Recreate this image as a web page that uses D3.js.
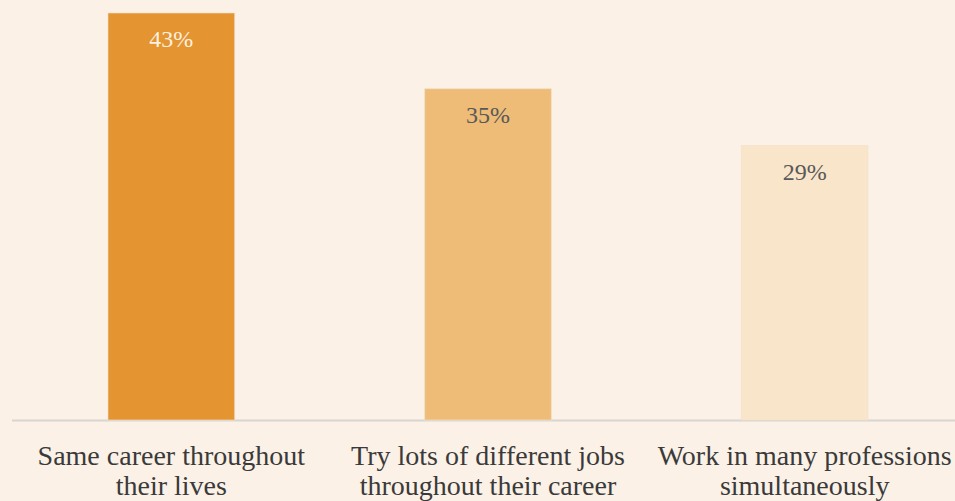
<!DOCTYPE html>
<html><head><meta charset="utf-8">
<script src="https://cdn.jsdelivr.net/npm/d3@7"></script>
<style>html,body{margin:0;padding:0;background:#FBF1E6;}svg{display:block;}</style>
</head><body>
<div id="chart"></div>
<script>
const categories = ["Same career throughout their lives", "Try lots of different jobs throughout their career", "Work in many professions simultaneously"];
const categoryLines = [["Same career throughout", "their lives"], ["Try lots of different jobs", "throughout their career"], ["Work in many professions", "simultaneously"]];
const values = [43, 35, 29];
const valueLabels = ["43%", "35%", "29%"];
const barColors = ["#E49431", "#EEBC77", "#F9E5CA"];
const labelColors = ["#FCF0DF", "#595959", "#595959"];

const W = 955, H = 501;
const svg = d3.select("#chart").append("svg").attr("width", W).attr("height", H);
svg.append("rect").attr("width", W).attr("height", H).attr("fill", "#FBF1E6");

const x = d3.scaleBand().domain(categories).range([13, 963]).paddingInner(0.6).paddingOuter(0.3);
const y = d3.scaleLinear().domain([0, 43]).range([420, 13]);

svg.append("line").attr("x1", 12).attr("x2", W).attr("y1", y(0) + 0.5).attr("y2", y(0) + 0.5)
  .attr("stroke", "#D9D6D2").attr("stroke-width", 2);

svg.selectAll("rect.bar").data(values).enter().append("rect").attr("class", "bar")
  .attr("x", (d, i) => x(categories[i]))
  .attr("y", d => y(d))
  .attr("width", x.bandwidth())
  .attr("height", d => y(0) - y(d))
  .attr("fill", (d, i) => barColors[i])
  .attr("stroke", "rgba(240,225,205,0.6)").attr("stroke-width", 1);

svg.selectAll("text.val").data(values).enter().append("text").attr("class", "val")
  .attr("x", (d, i) => x(categories[i]) + x.bandwidth() / 2)
  .attr("y", d => y(d) + 34)
  .attr("text-anchor", "middle")
  .attr("font-family", "'Liberation Serif', serif")
  .attr("font-size", 24)
  .attr("fill", (d, i) => labelColors[i])
  .text((d, i) => valueLabels[i]);

const g = svg.selectAll("text.cat").data(categories).enter().append("text").attr("class", "cat")
  .attr("x", d => x(d) + x.bandwidth() / 2)
  .attr("y", 465)
  .attr("text-anchor", "middle")
  .attr("font-family", "'Liberation Serif', serif")
  .attr("font-size", 28)
  .attr("fill", "#3A3A3A");
g.each(function(d, i) {
  d3.select(this).selectAll("tspan").data(categoryLines[i]).enter().append("tspan")
    .attr("x", x(d) + x.bandwidth() / 2)
    .attr("dy", (t, j) => j === 0 ? 0 : 30)
    .text(t => t);
});
</script>
</body></html>
